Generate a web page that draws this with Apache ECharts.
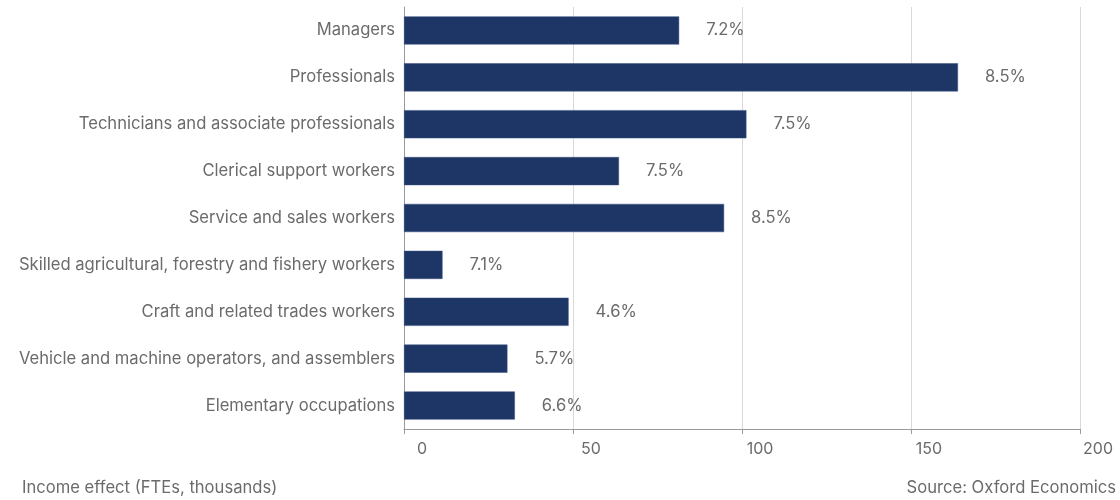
<!DOCTYPE html>
<html>
<head>
<meta charset="utf-8">
<script src="https://cdn.jsdelivr.net/npm/echarts@6/dist/echarts.min.js"></script>
<style>html,body{margin:0;padding:0;background:#fff}#c{width:1120px;height:500px}</style>
</head>
<body>
<div id="c"></div>
<script>
var categories = [
  "Managers",
  "Professionals",
  "Technicians and associate professionals",
  "Clerical support workers",
  "Service and sales workers",
  "Skilled agricultural, forestry and fishery workers",
  "Craft and related trades workers",
  "Vehicle and machine operators, and assemblers",
  "Elementary occupations"
];
var values = [81.4, 163.9, 101.3, 63.6, 94.7, 11.4, 48.7, 30.6, 32.8];
var shareLabels = ["7.2%", "8.5%", "7.5%", "7.5%", "8.5%", "7.1%", "4.6%", "5.7%", "6.6%"];
var xTicks = { min: 0, max: 200, interval: 50 };
var xAxisTitle = "Income effect (FTEs, thousands)";
var sourceText = "Source: Oxford Economics";

var textColor = "#6b6b6b";
var FONT = 'Inter';
var FS = 16.6;
var chart = echarts.init(document.getElementById('c'), null, { renderer: 'canvas' });
chart.setOption({
  animation: false,
  backgroundColor: '#fff',
  grid: { left: 404, right: 40, top: 7, bottom: 71, containLabel: false },
  xAxis: {
    type: 'value',
    min: xTicks.min, max: xTicks.max, interval: xTicks.interval,
    axisLine: { show: true, lineStyle: { color: '#9a9a9a', width: 1 } },
    axisTick: { show: true, length: 5, lineStyle: { color: '#9a9a9a' } },
    splitLine: { show: true, lineStyle: { color: '#d9d9d9', width: 1 } },
    axisLabel: { color: textColor, fontSize: 16, fontFamily: FONT, margin: 12, padding: [0, 0, 0, 36] }
  },
  yAxis: {
    type: 'category',
    inverse: true,
    data: categories,
    axisLine: { show: true, lineStyle: { color: '#9a9a9a', width: 1 } },
    axisTick: { show: false },
    axisLabel: { color: textColor, fontSize: FS, fontFamily: FONT, margin: 9 }
  },
  series: [{
    type: 'bar',
    data: values,
    barCategoryGap: '40%',
    itemStyle: { color: '#1d3666', borderColor: '#3a5080', borderWidth: 0.5 },
    label: {
      show: true,
      position: 'right',
      distance: 27,
      color: textColor,
      fontSize: FS,
      fontFamily: FONT,
      formatter: function (p) { return shareLabels[p.dataIndex]; }
    }
  }],
  graphic: [
    { type: 'text', left: 22, top: 479, style: { text: xAxisTitle, fill: textColor, fontSize: FS, fontFamily: FONT } },
    { type: 'text', right: 4, top: 479, style: { text: sourceText, fill: textColor, fontSize: FS, fontFamily: FONT } }
  ]
});
</script>
</body>
</html>
